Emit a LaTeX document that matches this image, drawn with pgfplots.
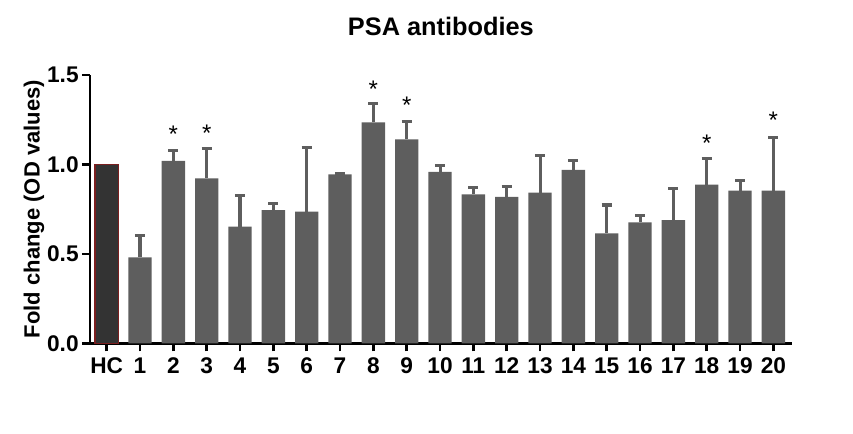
\documentclass[border=0pt]{standalone}
\usepackage{pgfplots}
\pgfplotsset{compat=1.18}
\usepackage{fontspec}
\setmainfont{Liberation Sans}
\definecolor{bargray}{HTML}{5E5E5E}
\definecolor{hcfill}{HTML}{333333}
\definecolor{hcedge}{HTML}{7A1F1F}
\pgfplotstableread{
x y e
1 0.480 0.125
2 1.020 0.060
3 0.922 0.168
4 0.652 0.175
5 0.745 0.037
6 0.736 0.360
7 0.945 0.003
8 1.235 0.104
9 1.140 0.102
10 0.959 0.036
11 0.833 0.036
12 0.818 0.057
13 0.842 0.208
14 0.969 0.053
15 0.615 0.158
16 0.676 0.039
17 0.689 0.175
18 0.887 0.145
19 0.853 0.058
20 0.853 0.300
}\bars
\pgfplotstableread{
x y
2 1.198
3 1.205
8 1.453
9 1.360
18 1.151
20 1.276
}\stars
\begin{document}
\begin{tikzpicture}
\useasboundingbox (0,0) rectangle (639.75pt,324.75pt);
\begin{axis}[
  at={(67.5pt,67.3pt)}, anchor=south west,
  scale only axis, width=526.3pt, height=201.2pt,
  xmin=-0.5, xmax=20.55, ymin=0, ymax=1.5,
  axis x line=bottom, axis y line=left,
  axis line style={-, line width=1.9pt, black},
  tick align=outside, major tick length=6pt,
  tick style={line width=1.9pt, black},
  xtick={0,1,...,20},
  xticklabels={HC,1,2,3,4,5,6,7,8,9,10,11,12,13,14,15,16,17,18,19,20},
  ytick={0,0.5,1,1.5},
  ticklabel style={font=\fontsize{17}{17}\selectfont\bfseries},
  xticklabel style={yshift=-1pt, text height=12.5pt, text depth=0pt},
  yticklabel style={xshift=1pt, /pgf/number format/.cd, fixed, fixed zerofill, precision=1, assume math mode=true},
  ylabel={Fold change (OD values)},
  ylabel style={at={(axis description cs:-0.0798,0.5)}, anchor=center, font=\fontsize{16.5}{16.5}\selectfont\bfseries},
  title={PSA antibodies},
  title style={at={(axis description cs:0.5,1)}, anchor=base, yshift=23.8pt, font=\fontsize{19}{19}\selectfont\bfseries},
  clip=false,
]
\addplot[ybar, bar shift=0pt, bar width=0.7, fill=hcfill, draw=hcedge, line width=0.8pt] coordinates {(0,1.0)};
\addplot[ybar, bar shift=0pt, bar width=0.7, fill=bargray, draw=none,
  error bars/.cd, y dir=plus, y explicit,
  error bar style={line width=2.3pt, color=bargray},
  error mark options={rotate=90, mark size=3.8pt, line width=2.3pt, color=bargray}]
  table[x=x, y=y, y error=e] {\bars};
\addplot[draw=none, mark=none, nodes near coords={*},
  every node near coord/.style={anchor=base, yshift=-10.3pt, font=\fontsize{18}{18}\selectfont}]
  table[x=x, y=y] {\stars};
\end{axis}
\end{tikzpicture}
\end{document}
